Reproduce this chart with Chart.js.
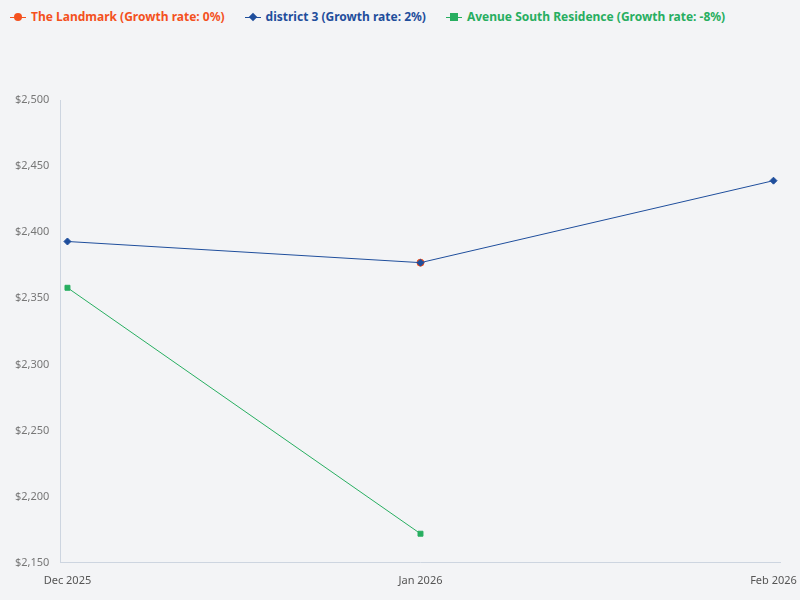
<!DOCTYPE html>
<html><head><meta charset="utf-8">
<script src="https://cdn.jsdelivr.net/npm/chart.js@4"></script>
<style>
body{margin:0;background:#f3f4f6;font-family:"Noto Sans",sans-serif;}
#wrap{position:relative;width:800px;height:600px;}
#legend{position:absolute;top:8px;left:10px;display:flex;gap:20px;font-weight:bold;font-size:12px;}
.it{display:flex;align-items:center;gap:5px;}
canvas{position:absolute;left:0;top:0;}
</style></head><body>
<div id="wrap"><div id="legend"></div><canvas id="c" width="800" height="600"></canvas></div>
<script>
const categories=["Dec 2025","Jan 2026","Feb 2026"];
const landmark=[null,2377,null];
const district3=[2393,2377,2439];
const avenue=[2358,2172,null];
const names=["The Landmark (Growth rate: 0%)","district 3 (Growth rate: 2%)","Avenue South Residence (Growth rate: -8%)"];
const colors=["#f4511e","#1f4e9c","#27ae60"];
const styles=["circle","rectRot","rect"];
const yTicks=[2150,2200,2250,2300,2350,2400,2450,2500];
const series=[landmark,district3,avenue];
const lg=document.getElementById('legend');
names.forEach((n,i)=>{
 const shape=i==0?'border-radius:50%;width:8px;height:8px':(i==1?'width:6px;height:6px;transform:rotate(45deg)':'width:8px;height:8px');
 lg.innerHTML+=`<div class="it"><span style="position:relative;width:16px;height:10px;display:inline-block"><span style="position:absolute;left:0;right:0;top:5px;height:1px;background:${colors[i]}"></span><span style="position:absolute;left:${i==1?5:4}px;top:${i==1?2:1}px;background:${colors[i]};${shape}"></span></span><span style="color:${colors[i]}">${n}</span></div>`;
});
new Chart(document.getElementById('c'),{type:'line',
data:{datasets:series.map((s,i)=>({label:names[i],data:s.map((v,j)=>v==null?null:{x:j,y:v}).filter(p=>p),borderColor:colors[i],backgroundColor:colors[i],borderWidth:1,pointStyle:styles[i],pointRadius:i==0?3.5:3.5,order:i==0?2:1}))},
options:{responsive:false,animation:false,layout:{padding:{top:100,right:16,left:12,bottom:10}},
plugins:{legend:{display:false},tooltip:{enabled:false}},
scales:{x:{type:'linear',min:-0.02,max:2.02,afterBuildTicks:a=>{a.ticks=[0,1,2].map(v=>({value:v}));},
 ticks:{callback:v=>categories[v],color:'#555',font:{size:11,family:'Noto Sans'},maxRotation:0},grid:{display:false},border:{color:'#cdd5e0'}},
 y:{min:2150,max:2500,afterBuildTicks:a=>{a.ticks=yTicks.map(v=>({value:v}));},
 ticks:{callback:v=>'$'+v.toLocaleString('en-US'),color:'#777',font:{size:11,family:'Noto Sans'}},grid:{display:false},border:{color:'#cdd5e0'}}}}});
</script></body></html>
